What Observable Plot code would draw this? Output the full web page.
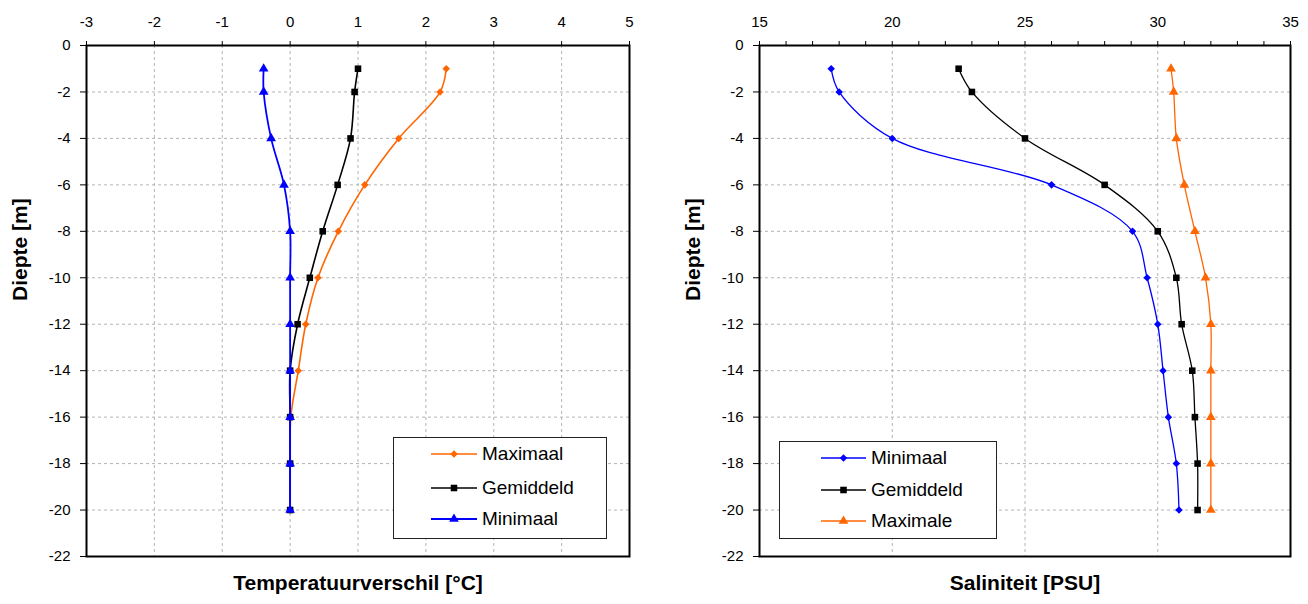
<!DOCTYPE html>
<html>
<head>
<meta charset="utf-8">
<script src="https://cdn.jsdelivr.net/npm/d3@7"></script>
<script src="https://cdn.jsdelivr.net/npm/@observablehq/plot@0.6"></script>
<style>
  html, body { margin: 0; padding: 0; background: #fff; }
  #wrap { position: relative; width: 1308px; height: 604px; font-family: "Liberation Sans", Arial, sans-serif; }
  .panel { position: absolute; top: 0; }
  .legend { position: absolute; background: #fff; border: 1.5px solid #222; box-sizing: border-box; }
  .legend .row { position: absolute; left: 0; height: 0; }
  .legend .row svg { position: absolute; overflow: visible; }
  .legend .row span { position: absolute; font-size: 19px; color: #000; white-space: nowrap; line-height: 1; }
</style>
</head>
<body>
<div id="wrap"></div>
<script>
// ---------- data ----------
const depth = [-1, -2, -4, -6, -8, -10, -12, -14, -16, -18, -20];

// Temperatuurverschil [°C]
const tempMax  = [2.30, 2.21, 1.60, 1.10, 0.71, 0.41, 0.23, 0.12, 0.01, 0.00, 0.00];
const tempMean = [1.00, 0.95, 0.89, 0.70, 0.48, 0.29, 0.11, 0.00, 0.00, 0.00, 0.00];
const tempMin  = [-0.39, -0.39, -0.28, -0.09, 0.00, 0.00, 0.00, 0.00, 0.00, 0.00, 0.00];

// Saliniteit [PSU]
const salMin  = [17.7, 18.0, 20.0, 26.0, 29.05, 29.6, 30.0, 30.2, 30.4, 30.7, 30.8];
const salMean = [22.5, 23.0, 25.0, 28.0, 30.0, 30.7, 30.9, 31.3, 31.4, 31.5, 31.5];
const salMax  = [30.5, 30.6, 30.7, 31.0, 31.4, 31.8, 32.0, 32.0, 32.0, 32.0, 32.0];

// ticks
const depthTicks = [0, -2, -4, -6, -8, -10, -12, -14, -16, -18, -20, -22];
const depthGrid = [-2, -4, -6, -8, -10, -12, -14, -16, -18, -20];
const tempTicks = [-3, -2, -1, 0, 1, 2, 3, 4, 5];
const salTicks = [15, 16, 17, 18, 19, 20, 21, 22, 23, 24, 25, 26, 27, 28, 29, 30, 31, 32, 33, 34, 35];
const salLabelTicks = [15, 20, 25, 30, 35];

// labels
const tempTitle = "Temperatuurverschil [°C]";
const salTitle = "Saliniteit [PSU]";
const depthTitle = "Diepte [m]";
const tempSeriesNames = ["Maximaal", "Gemiddeld", "Minimaal"];
const salSeriesNames = ["Minimaal", "Gemiddeld", "Maximale"];

// ---------- styles ----------
const ORANGE = "#FF6600", BLUE = "#0000FF", BLACK = "#000000";
const GRID = "#b4b4b4";
const FONT = "'Liberation Sans', Arial, sans-serif";

const rows = arr => depth.map((d, i) => ({depth: d, value: arr[i]}));

function seriesMarks(arr, color, symbol, r, sw) {
  const data = rows(arr);
  return [
    Plot.line(data, {x: "value", y: "depth", stroke: color, strokeWidth: sw, curve: "catmull-rom"}),
    Plot.dot(data, {x: "value", y: "depth", fill: color, stroke: "none", symbol, r})
  ];
}

function makePanel({xDomain, xTicks, xLabelTicks, xGrid, series, xTitle, marginLeft, marginRight, yTitleDx}) {
  return Plot.plot({
    width: 654,
    height: 604,
    marginTop: 45,
    marginBottom: 48,
    marginLeft,
    marginRight,
    style: {fontFamily: FONT, fontSize: "15px", color: "#000", background: "#fff", overflow: "visible"},
    x: {domain: xDomain},
    y: {domain: [-22, 0]},
    marks: [
      Plot.gridX(xGrid, {stroke: GRID, strokeOpacity: 1, strokeWidth: 1, strokeDasharray: "3,3"}),
      Plot.gridY(depthGrid, {stroke: GRID, strokeOpacity: 1, strokeWidth: 1, strokeDasharray: "3,3"}),
      Plot.axisX(xTicks, {anchor: "top", tickSize: 5, tickPadding: 14, tickFormat: d => xLabelTicks.includes(d) ? String(d) : "", label: null, fontSize: 15, stroke: "#000"}),
      Plot.axisY(depthTicks, {anchor: "left", tickSize: 6, tickPadding: 10, tickFormat: d => String(d), label: null, fontSize: 15, stroke: "#000"}),
      ...series.flatMap(s => seriesMarks(...s)),
      Plot.frame({stroke: "#000", strokeWidth: 2}),
      Plot.text([xTitle], {frameAnchor: "bottom", dy: 33, fontSize: 21, fontWeight: "bold", fill: "#000"}),
      Plot.text([depthTitle], {frameAnchor: "left", dx: yTitleDx, rotate: -90, fontSize: 21, fontWeight: "bold", fill: "#000"})
    ]
  });
}

const wrap = document.getElementById("wrap");

const leftSeries = [
  [tempMax, ORANGE, "diamond2", 3.4, 1.6],
  [tempMean, BLACK, "square", 3.7, 1.6],
  [tempMin, BLUE, "triangle", 3.6, 1.8]
];
const rightSeries = [
  [salMin, BLUE, "diamond2", 3.4, 1.3],
  [salMean, BLACK, "square", 3.7, 1.3],
  [salMax, ORANGE, "triangle", 3.6, 1.3]
];

const left = makePanel({
  xDomain: [-3, 5], xTicks: tempTicks, xLabelTicks: tempTicks, xGrid: tempTicks,
  series: leftSeries, xTitle: tempTitle, marginLeft: 86, marginRight: 25, yTitleDx: -66
});
left.classList.add("panel"); left.style.left = "0px";
wrap.appendChild(left);

const right = makePanel({
  xDomain: [15, 35], xTicks: salTicks, xLabelTicks: salLabelTicks, xGrid: salLabelTicks,
  series: rightSeries, xTitle: salTitle, marginLeft: 105, marginRight: 18, yTitleDx: -66
});
right.classList.add("panel"); right.style.left = "654px";
wrap.appendChild(right);

// ---------- legends (HTML overlay) ----------
function legend(box, names, series) {
  const div = document.createElement("div");
  div.className = "legend";
  Object.assign(div.style, {left: box.x + "px", top: box.y + "px", width: box.w + "px", height: box.h + "px"});
  names.forEach((name, i) => {
    const [, color, symbol, r, sw] = series[i];
    const row = document.createElement("div");
    row.className = "row";
    row.style.top = box.rows[i] + "px";
    const svg = d3.create("svg").attr("width", box.lineW).attr("height", 12)
      .style("left", box.lineX + "px").style("top", "-6px");
    svg.append("line").attr("x1", 0).attr("x2", box.lineW).attr("y1", 6).attr("y2", 6)
      .attr("stroke", color).attr("stroke-width", sw);
    const sym = {diamond2: d3.symbolDiamond2, square: d3.symbolSquare, triangle: d3.symbolTriangle}[symbol];
    svg.append("path").attr("transform", `translate(${box.lineW / 2},6)`)
      .attr("d", d3.symbol(sym, r * r * Math.PI)()).attr("fill", color);
    row.appendChild(svg.node());
    const span = document.createElement("span");
    span.textContent = name;
    span.style.left = box.textX + "px";
    span.style.top = "-10px";
    row.appendChild(span);
    div.appendChild(row);
  });
  wrap.appendChild(div);
}

legend({x: 393, y: 437, w: 214, h: 102, rows: [16, 50, 81], lineX: 37, lineW: 46, textX: 88}, tempSeriesNames, leftSeries);
legend({x: 779, y: 441, w: 218, h: 98, rows: [16, 48, 79], lineX: 41, lineW: 45, textX: 91}, salSeriesNames, rightSeries);
</script>
</body>
</html>
